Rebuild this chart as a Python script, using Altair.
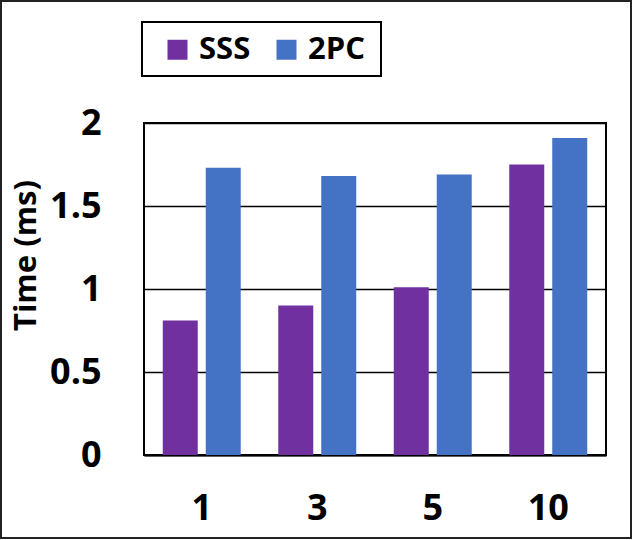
import altair as alt
import pandas as pd

groups = ["1", "3", "5", "10"]
series = ["SSS", "2PC"]
sss_values = [0.81, 0.90, 1.01, 1.75]
pc_values = [1.73, 1.68, 1.69, 1.91]
colors = ["#7030A0", "#4472C4"]
y_ticks = [0, 0.5, 1, 1.5, 2]

rows = []
for g, a, b in zip(groups, sss_values, pc_values):
    rows.append({"group": g, "series": "SSS", "value": a})
    rows.append({"group": g, "series": "2PC", "value": b})
df = pd.DataFrame(rows)

FONT = "Open Sans"

bars = alt.Chart(df).mark_bar().encode(
    x=alt.X("group:N", sort=groups,
            scale=alt.Scale(paddingInner=0.325, paddingOuter=0.1625),
            axis=alt.Axis(title=None, labelAngle=0, ticks=False, domain=True,
                          domainColor="black", domainWidth=2,
                          labelFont=FONT, labelFontSize=36, labelFontWeight="bold",
                          labelColor="black", labelPadding=36)),
    xOffset=alt.XOffset("series:N", sort=series,
                        scale=alt.Scale(paddingInner=0.186, paddingOuter=0)),
    y=alt.Y("value:Q",
            scale=alt.Scale(domain=[0, 2], nice=False),
            axis=alt.Axis(title="Time (ms)", values=y_ticks, format="~g",
                          grid=True, gridColor="black", gridWidth=1.5,
                          ticks=False, domain=False,
                          labelFont=FONT, labelFontSize=36, labelFontWeight="bold",
                          labelColor="black", labelPadding=43,
                          titleFont=FONT, titleFontSize=31, titleFontWeight="bold",
                          titleColor="black", titleX=-118, titleY=132,
                          titleAlign="center", titleBaseline="middle", titleAngle=270)),
    color=alt.Color("series:N", sort=series,
                    scale=alt.Scale(domain=series, range=colors),
                    legend=alt.Legend(title=None, orient="none", legendX=18, legendY=-89,
                                      direction="horizontal", symbolType="square",
                                      symbolSize=400, symbolStrokeWidth=0,
                                      labelFont=FONT, labelFontSize=31,
                                      labelFontWeight="bold", labelColor="black",
                                      labelOffset=6, columnPadding=20, padding=0)),
)

one = pd.DataFrame({"k": [0]})
legend_box = alt.Chart(one).mark_rect(fill=None, stroke="black", strokeWidth=2).encode(
    x=alt.value(-2), x2=alt.value(237), y=alt.value(-101), y2=alt.value(-47))
outer_box = alt.Chart(one).mark_rect(fill=None, stroke="#222222", strokeWidth=2).encode(
    x=alt.value(-143), x2=alt.value(487), y=alt.value(-122), y2=alt.value(415))

chart = alt.layer(bars, legend_box, outer_box).properties(
    width=462, height=332,
    autosize=alt.AutoSizeParams(type="none"),
    padding={"left": 144, "top": 123, "right": 28, "bottom": 85},
    background="white",
).configure_view(stroke="black", strokeWidth=2)

chart.save("out.html", embed_options={"renderer": "svg", "actions": False})
